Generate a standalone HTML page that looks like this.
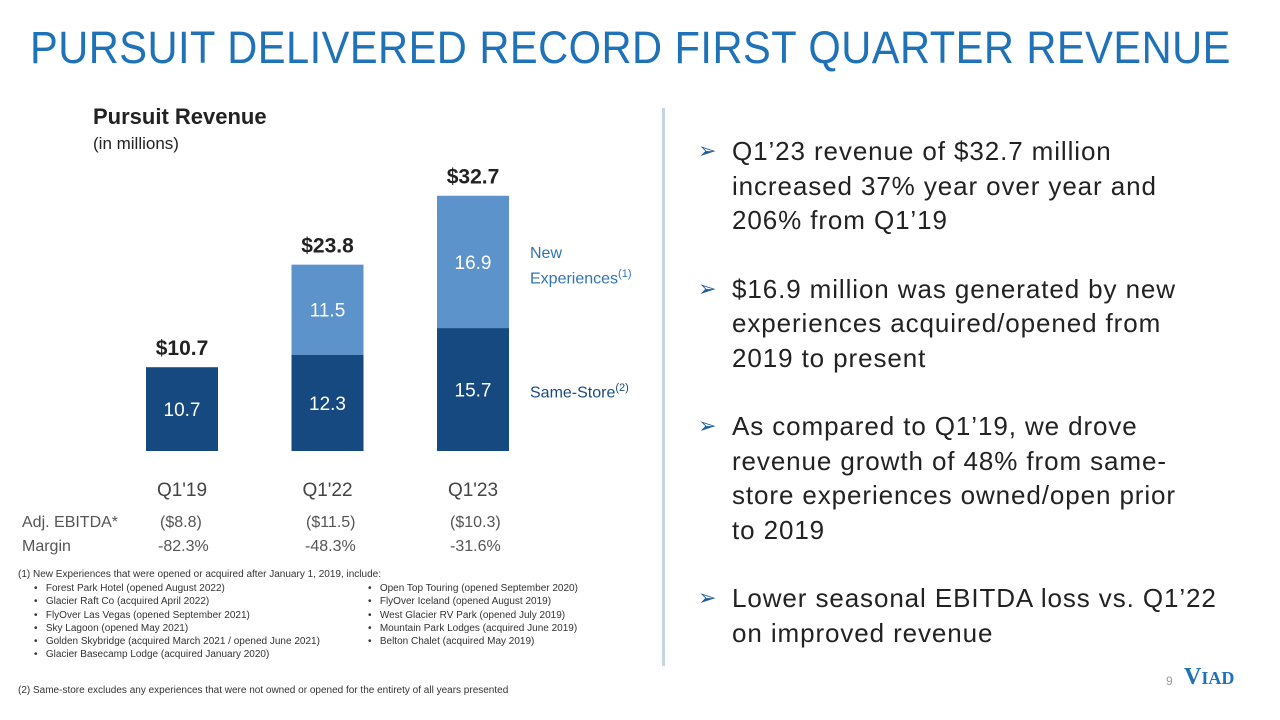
<!DOCTYPE html>
<html><head><meta charset="utf-8"><style>
body{margin:0;width:1280px;height:720px;background:#fff;font-family:"Liberation Sans",sans-serif;position:relative;overflow:hidden}
.a{position:absolute;white-space:nowrap}
</style></head><body>
<div class="a" style="left:30px;top:22px;font-size:45px;color:#1f72b8;letter-spacing:0.5px;transform:scaleX(0.925);transform-origin:left">PURSUIT DELIVERED RECORD FIRST QUARTER REVENUE</div>
<div class="a" style="left:93px;top:104px;font-size:22px;font-weight:bold;color:#222">Pursuit Revenue</div>
<div class="a" style="left:93px;top:134px;font-size:17px;color:#222">(in millions)</div>
<svg id="chart" class="a" style="left:0;top:0" width="660" height="560"></svg>
<div class="a" style="left:530px;top:244px;font-size:16px;color:#2f75b5;line-height:20px">New<br>Experiences<sup style="font-size:11px">(1)</sup></div>
<div class="a" style="left:530px;top:382px;font-size:16px;color:#1a4b80">Same-Store<sup style="font-size:11px">(2)</sup></div>
<div class="a" style="left:22px;top:514px;font-size:16px;color:#555">Adj. EBITDA*</div>
<div class="a" style="left:22px;top:538px;font-size:16px;color:#555">Margin</div>
<div class="a" style="left:160px;top:514px;font-size:16px;color:#555">($8.8)</div>
<div class="a" style="left:306px;top:514px;font-size:16px;color:#555">($11.5)</div>
<div class="a" style="left:450px;top:514px;font-size:16px;color:#555">($10.3)</div>
<div class="a" style="left:158px;top:538px;font-size:16px;color:#555">-82.3%</div>
<div class="a" style="left:305px;top:538px;font-size:16px;color:#555">-48.3%</div>
<div class="a" style="left:450px;top:538px;font-size:16px;color:#555">-31.6%</div>
<div class="a" style="left:18px;top:568px;font-size:10px;color:#333;line-height:13px">(1) New Experiences that were opened or acquired after January 1, 2019, include:</div>
<div class="a" style="left:34px;top:582px;font-size:10px;color:#333;line-height:13.3px">• &nbsp;&nbsp;Forest Park Hotel (opened August 2022)<br>• &nbsp;&nbsp;Glacier Raft Co (acquired April 2022)<br>• &nbsp;&nbsp;FlyOver Las Vegas (opened September 2021)<br>• &nbsp;&nbsp;Sky Lagoon (opened May 2021)<br>• &nbsp;&nbsp;Golden Skybridge (acquired March 2021 / opened June 2021)<br>• &nbsp;&nbsp;Glacier Basecamp Lodge (acquired January 2020)</div>
<div class="a" style="left:368px;top:582px;font-size:10px;color:#333;line-height:13.3px">• &nbsp;&nbsp;Open Top Touring (opened September 2020)<br>• &nbsp;&nbsp;FlyOver Iceland (opened August 2019)<br>• &nbsp;&nbsp;West Glacier RV Park (opened July 2019)<br>• &nbsp;&nbsp;Mountain Park Lodges (acquired June 2019)<br>• &nbsp;&nbsp;Belton Chalet (acquired May 2019)</div>
<div class="a" style="left:18px;top:685px;font-size:10px;color:#333">(2) Same-store excludes any experiences that were not owned or opened for the entirety of all years presented</div>
<div class="a" style="left:662px;top:108px;width:3px;height:558px;background:#c5d5e4"></div>
<div class="a" style="left:698px;top:134px;font-size:26px;color:#222;line-height:34.5px;letter-spacing:0.9px">
<div style="position:relative;padding-left:34px;margin-bottom:34px"><span style="position:absolute;left:0;top:0;color:#1f5e9a;font-size:22px">➢</span>Q1’23 revenue of $32.7 million<br>increased 37% year over year and<br>206% from Q1’19</div>
<div style="position:relative;padding-left:34px;margin-bottom:34px"><span style="position:absolute;left:0;color:#1f5e9a;font-size:22px">➢</span>$16.9 million was generated by new<br>experiences acquired/opened from<br>2019 to present</div>
<div style="position:relative;padding-left:34px;margin-bottom:34px"><span style="position:absolute;left:0;color:#1f5e9a;font-size:22px">➢</span>As compared to Q1’19, we drove<br>revenue growth of 48% from same-<br>store experiences owned/open prior<br>to 2019</div>
<div style="position:relative;padding-left:34px"><span style="position:absolute;left:0;color:#1f5e9a;font-size:22px">➢</span>Lower seasonal EBITDA loss vs. Q1’22<br>on improved revenue</div>
</div>
<div class="a" style="left:1166px;top:674px;font-size:12px;color:#999">9</div>
<div class="a" style="left:1184px;top:664px;font-family:'Liberation Serif',serif;font-size:24px;color:#1f72b8;font-weight:bold">V<span style="font-size:18px">IAD</span></div>
<script>
const categories=["Q1'19","Q1'22","Q1'23"];
const sameStore=[10.7,12.3,15.7];
const newExp=[0,11.5,16.9];
const totals=["$10.7","$23.8","$32.7"];
const svg=document.getElementById('chart');
const NS='http://www.w3.org/2000/svg';
const base=451,scale=7.83,x0=146,step=145.5,bw=72;
const y=v=>base-v*scale;
function mk(t,a){const e=document.createElementNS(NS,t);for(const k in a)e.setAttribute(k,a[k]);svg.appendChild(e);return e;}
categories.forEach((c,i)=>{
 const x=x0+i*step;
 const r1=mk('rect',{x:x,y:y(sameStore[i]),width:bw,height:sameStore[i]*scale,fill:'#15497f'});
 
 
 const t1=mk('text',{x:x+bw/2,y:(y(sameStore[i])+base)/2+7,'text-anchor':'middle','font-size':19,fill:'#fff'});t1.textContent=sameStore[i].toFixed(1);
 
 
 let top=y(sameStore[i]);
 if(newExp[i]>0){
  const r2=mk('rect',{x:x,y:y(sameStore[i]+newExp[i]),width:bw,height:newExp[i]*scale,fill:'#5b93ca'});
  
  
  const t2=mk('text',{x:x+bw/2,y:(y(sameStore[i]+newExp[i])+y(sameStore[i]))/2+7,'text-anchor':'middle','font-size':19,fill:'#fff'});t2.textContent=newExp[i].toFixed(1);
  
  
  top=y(sameStore[i]+newExp[i]);
 }
 const tt=mk('text',{x:x+bw/2,y:top-12,'text-anchor':'middle','font-size':21,'font-weight':'bold',fill:'#222'});tt.textContent=totals[i];
 
 
 const cl=mk('text',{x:x+bw/2,y:496,'text-anchor':'middle','font-size':19,fill:'#444'});cl.textContent=c;
 
 
});
</script>
</body></html>
